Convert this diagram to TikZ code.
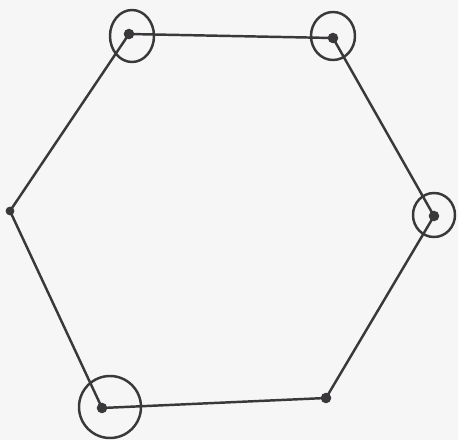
\documentclass[tikz,border=0pt]{standalone}
\usepackage{tikz}
\usetikzlibrary{positioning}
\definecolor{paper}{RGB}{246, 246, 247}
\definecolor{pencil}{RGB}{58, 56, 58}
\tikzset{
    vertex/.style={circle, fill=pencil, inner sep=0pt, minimum size=6pt},
    edge/.style={pencil, line width=1.4pt, line cap=round, line join=round},
    ring/.style={pencil, line width=1.4pt}
}
\begin{document}
\begin{tikzpicture}[x=0.02cm, y=-0.02cm]
            \fill [paper] (0,0) rectangle (458,440);
            \useasboundingbox (0,0) rectangle (458,440);

            \node (topleft) [vertex] at (129,34) {};
            \node (topright) [vertex] at (333,38) {};
            \node (right) [vertex] at (434,216) {};
            \node (bottomright) [vertex] at (326,398) {};
            \node (bottomleft) [vertex] at (102,408) {};
            \node (left) [vertex, minimum size=5pt] at (10,211) {};

            \draw [edge] (topleft.center) -- (topright.center) -- (right.center) -- (bottomright.center) -- (bottomleft.center) -- (left.center) -- cycle;

            \draw [ring] (132,36) ellipse [x radius=22, y radius=26];
            \draw [ring] (333,36) ellipse [x radius=22, y radius=24];
            \draw [ring] (434,215) ellipse [x radius=21, y radius=22];
            \draw [ring] (110,407) circle [radius=31];
        \end{tikzpicture}
\end{document}
